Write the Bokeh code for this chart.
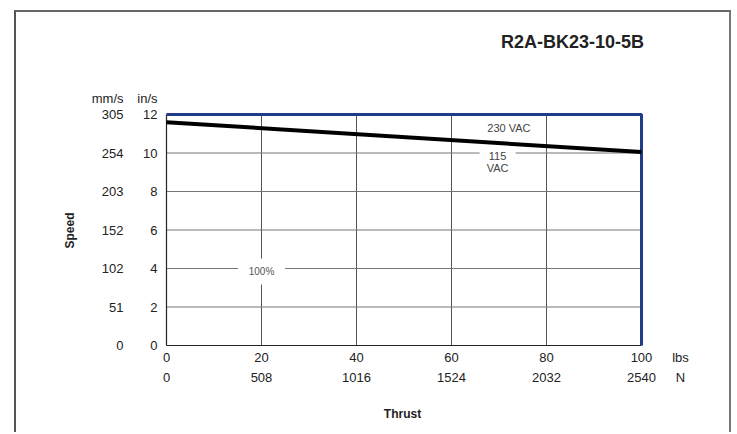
from bokeh.plotting import figure
from bokeh.models import (Range1d, LinearAxis, FixedTicker)
from bokeh.core.properties import value
from bokeh.embed import file_html
from bokeh.resources import INLINE

# ---- data ----
title_text = "R2A-BK23-10-5B"
thrust_lbs = [0, 100]
speed_115_230 = [11.6, 10.05]          # in/s, 115/230 VAC curve
limit_thrust = [0, 100, 100]           # 100% duty envelope
limit_speed = [12, 12, 0]
in_ticks = [0, 2, 4, 6, 8, 10, 12]
in_labels = ["0", "2", "4", "6", "8", "10", "12"]
mm_labels = ["0", "51", "102", "152", "203", "254", "305"]
lbs_ticks = [0, 20, 40, 60, 80, 100]
lbs_labels = ["0", "20", "40", "60", "80", "100"]
n_labels = ["0", "508", "1016", "1524", "2032", "2540"]
grid_x = [20, 40, 60, 80]
grid_y = [2, 4, 6, 8, 10]
label_texts = ["230  VAC", "115", "VAC", "100%"]
y_units = ["in/s", "mm/s"]
x_units = ["lbs", "N"]
y_title, x_title = "Speed", "Thrust"

FONT = "Liberation Sans"
TXT = "#222222"

# outer box: margin + css border around the canvas
M_LEFT, M_TOP, BORDER = 14, 10, 2
OX, OY = M_LEFT + BORDER, M_TOP + BORDER     # canvas origin on the page
W, H = 717, 422

# scale (page px)
X0_PX, Y0_PX = 166, 345         # page position of (0, 0)
px_x = 4.75                     # px per lbs
px_y = 19.25                    # px per in/s
FL, FR, FT, FB = 163, 700, 95, 348   # frame edges on the page

x_start = (FL - X0_PX) / px_x
x_end = (FR - X0_PX) / px_x
y_start = (Y0_PX - FB) / px_y
y_end = (Y0_PX - FT) / px_y

# positions of header/unit/title texts in data units
unit_y = (Y0_PX - 98) / px_y
unit_x = (680 - X0_PX) / px_x
speed_pos = (Y0_PX - 230) / px_y
thrust_pos = (402 - X0_PX) / px_x
title_pos = (572 - X0_PX) / px_x

fl, ft = FL - OX, FT - OY
p = figure(width=W, height=H, output_backend="svg", toolbar_location=None,
           x_range=Range1d(x_start, x_end), y_range=Range1d(y_start, y_end),
           min_border_left=fl, min_border_top=ft,
           min_border_right=W - (FR - OX), min_border_bottom=H - (FB - OY),
           x_axis_type=None, y_axis_type=None)
p.outline_line_color = None
p.background_fill_color = "white"
p.border_fill_color = "white"
p.margin = (M_TOP, 0, 0, M_LEFT)
p.styles = {"border-left": f"{BORDER}px solid #555555",
            "border-top": f"{BORDER}px solid #666666",
            "border-right": f"{BORDER}px solid #777777"}

def make_axis(ticks, labels, standoff, size="13px", bold=False, vertical=False):
    ax = LinearAxis(ticker=FixedTicker(ticks=ticks),
                    major_label_overrides={t: l for t, l in zip(ticks, labels)})
    ax.axis_line_color = None
    ax.major_tick_line_color = None
    ax.minor_tick_line_color = None
    ax.major_tick_out = 0
    ax.major_tick_in = 0
    ax.major_label_standoff = standoff
    ax.major_label_text_font = FONT
    ax.major_label_text_font_size = size
    ax.major_label_text_color = TXT
    if bold:
        ax.major_label_text_font_style = "bold"
    if vertical:
        ax.major_label_orientation = "vertical"
    return ax

# chart title as a label above the chart
p.add_layout(make_axis([title_pos], [title_text], 44, size="18px", bold=True), "above")

# left axes: in/s, mm/s, title
p.add_layout(make_axis(in_ticks + [unit_y], in_labels + [y_units[0]], 6), "left")
p.add_layout(make_axis(in_ticks + [unit_y], mm_labels + [y_units[1]], 11), "left")
p.add_layout(make_axis([speed_pos], [y_title], 12, size="12px", bold=True, vertical=True), "left")

# bottom axes: lbs, N, title
p.add_layout(make_axis(lbs_ticks + [unit_x], lbs_labels + [x_units[0]], 1), "below")
p.add_layout(make_axis(lbs_ticks + [unit_x], n_labels + [x_units[1]], 2), "below")
p.add_layout(make_axis([thrust_pos], [x_title], 19, size="12px", bold=True), "below")

# grid lines, limited to the chart area
p.segment(x0=grid_x, y0=[0] * len(grid_x), x1=grid_x, y1=[12] * len(grid_x),
          line_color="#555555", line_width=1)
p.segment(x0=[0] * len(grid_y), y0=grid_y, x1=[100] * len(grid_y), y1=grid_y,
          line_color="#777777", line_width=1)

# axis lines
p.line([0, 0], [0, 12], line_color="#222222", line_width=1.2)
p.line([0, 100], [0, 0], line_color="#222222", line_width=1.2)

# envelope
p.line(limit_thrust, limit_speed, line_color="#1f3c88", line_width=3)

# white label boxes
p.rect(x=[20], y=[3.85], width=47, height=26, width_units="screen",
       height_units="screen", fill_color="white", line_color=None)
p.rect(x=[69.7], y=[9.55], width=36, height=30, width_units="screen",
       height_units="screen", fill_color="white", line_color=None)

# speed curve
p.line(thrust_lbs, speed_115_230, line_color="black", line_width=4)

# in-plot labels
p.text(x=[72.4, 69.7, 69.7], y=[11.32, 9.82, 9.2], text=label_texts[:3],
       text_font=value(FONT), text_font_size="11px", text_color="#444444",
       text_align="center", text_baseline="middle")
p.text(x=[20], y=[3.85], text=[label_texts[3]],
       text_font=value(FONT), text_font_size="10px", text_color="#555555",
       text_align="center", text_baseline="middle")

open("out.html", "w").write(file_html(p, INLINE))
